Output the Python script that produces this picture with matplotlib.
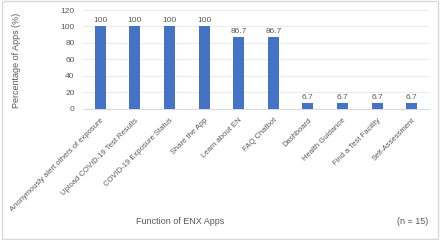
import matplotlib
matplotlib.use("Agg")
import matplotlib.pyplot as plt
from matplotlib.patches import Rectangle

categories = ["Anonymously alert others of exposure", "Upload COVID-19 Test Results",
              "COVID-19 Exposure Status", "Share the App", "Learn about EN", "FAQ Chatbot",
              "Dashboard", "Health Guidance", "Find a Test Facility", "Self-Assessment"]
values = [100, 100, 100, 100, 86.7, 86.7, 6.7, 6.7, 6.7, 6.7]
value_labels = ["100", "100", "100", "100", "86.7", "86.7", "6.7", "6.7", "6.7", "6.7"]
yticks = [0, 20, 40, 60, 80, 100, 120]

plt.rcParams['font.family'] = ['Liberation Sans', 'DejaVu Sans']
txt = '#595959'

fig = plt.figure(figsize=(4.4, 2.4), dpi=100)
fig.patches.append(Rectangle((0.004, 0.006), 0.992, 0.988, transform=fig.transFigure,
                             fill=False, edgecolor='#d9d9d9', linewidth=1.0))
ax = fig.add_axes([83/440, 1 - 108.5/240, (429-83)/440, (108.5-10)/240])
x = range(len(categories))
ax.bar(x, values, width=0.32, color='#4472C4', zorder=3)
for i, (v, lab) in enumerate(zip(values, value_labels)):
    ax.text(i, v + 3, lab, ha='center', va='bottom', fontsize=6, color=txt)
ax.set_xlim(-0.5, len(categories) - 0.5)
ax.set_ylim(0, 120)
ax.set_yticks(yticks)
ax.yaxis.grid(True, color='#e6e6e6', linewidth=0.6, zorder=0)
for s in ['top', 'right', 'left']:
    ax.spines[s].set_visible(False)
ax.spines['bottom'].set_color('#d9d9d9')
ax.spines['bottom'].set_linewidth(0.7)
ax.tick_params(axis='both', length=0, labelsize=6, colors=txt, pad=6)
ax.set_xticks(list(x))
ax.set_xticklabels(categories, rotation=45, ha='right', rotation_mode='anchor', fontsize=5.5)
ax.tick_params(axis='x', pad=6)
fig.text(17/440, 1 - 60/240, "Percentage of Apps (%)", rotation=90, ha='center', va='center',
         fontsize=6.5, color=txt)
fig.text(180/440, 1 - 222/240, "Function of ENX Apps", ha='center', va='center', fontsize=6.5, color=txt)
fig.text(428/440, 1 - 222/240, "(n = 15)", ha='right', va='center', fontsize=6.5, color=txt)
fig.savefig("out.png", dpi=100)
